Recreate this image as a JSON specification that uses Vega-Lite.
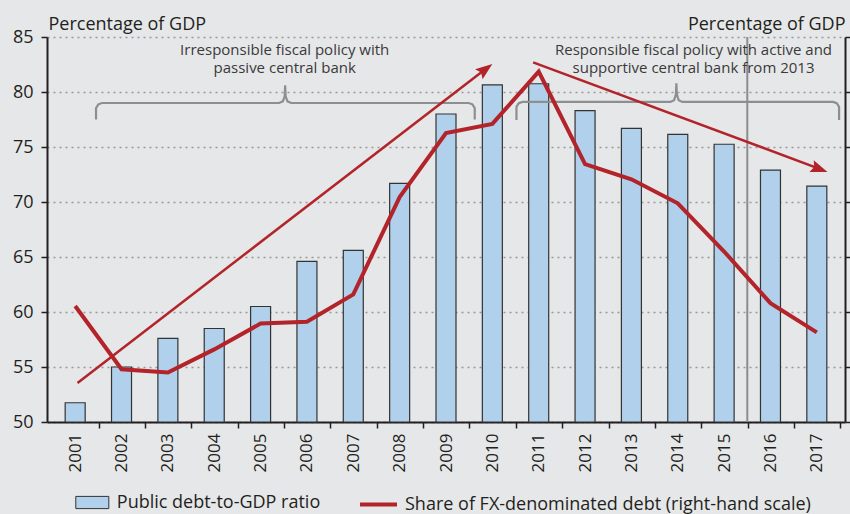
{
  "$schema": "https://vega.github.io/schema/vega-lite/v6.json",
  "width": 798,
  "height": 385,
  "autosize": {"type": "none"},
  "padding": {"left": 47, "top": 37, "right": 5, "bottom": 92},
  "background": "#e6e7e8",
  "config": {
    "view": {"stroke": null},
    "font": "Open Sans",
    "axis": {
      "labelFont": "Open Sans",
      "titleFont": "Open Sans",
      "labelColor": "#231f20",
      "titleColor": "#231f20",
      "domainColor": "#231f20",
      "tickColor": "#231f20",
      "titleFontWeight": "normal",
      "labelFontSize": 18,
      "titleFontSize": 18,
      "domainWidth": 2,
      "tickWidth": 1.5
    },
    "legend": {"labelFont": "Open Sans", "labelColor": "#231f20", "labelFontSize": 18, "labelLimit": 0}
  },
  "datasets": {
    "bars": [
      {"year": 2001, "debt": 51.75, "series": "Public debt-to-GDP ratio"},
      {"year": 2002, "debt": 55.0, "series": "Public debt-to-GDP ratio"},
      {"year": 2003, "debt": 57.6, "series": "Public debt-to-GDP ratio"},
      {"year": 2004, "debt": 58.5, "series": "Public debt-to-GDP ratio"},
      {"year": 2005, "debt": 60.5, "series": "Public debt-to-GDP ratio"},
      {"year": 2006, "debt": 64.6, "series": "Public debt-to-GDP ratio"},
      {"year": 2007, "debt": 65.6, "series": "Public debt-to-GDP ratio"},
      {"year": 2008, "debt": 71.7, "series": "Public debt-to-GDP ratio"},
      {"year": 2009, "debt": 78.0, "series": "Public debt-to-GDP ratio"},
      {"year": 2010, "debt": 80.65, "series": "Public debt-to-GDP ratio"},
      {"year": 2011, "debt": 80.75, "series": "Public debt-to-GDP ratio"},
      {"year": 2012, "debt": 78.3, "series": "Public debt-to-GDP ratio"},
      {"year": 2013, "debt": 76.7, "series": "Public debt-to-GDP ratio"},
      {"year": 2014, "debt": 76.15, "series": "Public debt-to-GDP ratio"},
      {"year": 2015, "debt": 75.25, "series": "Public debt-to-GDP ratio"},
      {"year": 2016, "debt": 72.9, "series": "Public debt-to-GDP ratio"},
      {"year": 2017, "debt": 71.45, "series": "Public debt-to-GDP ratio"}
    ],
    "fx": [
      {"year": 2001, "share": 60.55, "series": "Share of FX-denominated debt (right-hand scale)"},
      {"year": 2002, "share": 54.8, "series": "Share of FX-denominated debt (right-hand scale)"},
      {"year": 2003, "share": 54.5, "series": "Share of FX-denominated debt (right-hand scale)"},
      {"year": 2004, "share": 56.6, "series": "Share of FX-denominated debt (right-hand scale)"},
      {"year": 2005, "share": 58.95, "series": "Share of FX-denominated debt (right-hand scale)"},
      {"year": 2006, "share": 59.12, "series": "Share of FX-denominated debt (right-hand scale)"},
      {"year": 2007, "share": 61.6, "series": "Share of FX-denominated debt (right-hand scale)"},
      {"year": 2008, "share": 70.45, "series": "Share of FX-denominated debt (right-hand scale)"},
      {"year": 2009, "share": 76.27, "series": "Share of FX-denominated debt (right-hand scale)"},
      {"year": 2010, "share": 77.1, "series": "Share of FX-denominated debt (right-hand scale)"},
      {"year": 2011, "share": 81.85, "series": "Share of FX-denominated debt (right-hand scale)"},
      {"year": 2012, "share": 73.45, "series": "Share of FX-denominated debt (right-hand scale)"},
      {"year": 2013, "share": 72.06, "series": "Share of FX-denominated debt (right-hand scale)"},
      {"year": 2014, "share": 69.88, "series": "Share of FX-denominated debt (right-hand scale)"},
      {"year": 2015, "share": 65.5, "series": "Share of FX-denominated debt (right-hand scale)"},
      {"year": 2016, "share": 60.8, "series": "Share of FX-denominated debt (right-hand scale)"},
      {"year": 2017, "share": 58.15, "series": "Share of FX-denominated debt (right-hand scale)"}
    ],
    "divider": [{"year": 2015.5}],
    "braces": [
      {"b": "L", "i": 0, "x": 2001.45, "y": 77.5},
      {"b": "L", "i": 1, "x": 2001.45, "y": 78.55},
      {"b": "L", "i": 2, "x": 2001.5, "y": 78.88},
      {"b": "L", "i": 3, "x": 2001.58, "y": 79.0},
      {"b": "L", "i": 4, "x": 2005.4, "y": 79.0},
      {"b": "L", "i": 5, "x": 2005.48, "y": 79.15},
      {"b": "L", "i": 6, "x": 2005.52, "y": 79.6},
      {"b": "L", "i": 7, "x": 2005.53, "y": 80.6},
      {"b": "L", "i": 8, "x": 2005.54, "y": 79.6},
      {"b": "L", "i": 9, "x": 2005.58, "y": 79.15},
      {"b": "L", "i": 10, "x": 2005.66, "y": 79.0},
      {"b": "L", "i": 11, "x": 2009.49, "y": 79.0},
      {"b": "L", "i": 12, "x": 2009.57, "y": 78.88},
      {"b": "L", "i": 13, "x": 2009.62, "y": 78.55},
      {"b": "L", "i": 14, "x": 2009.62, "y": 77.5},
      {"b": "R", "i": 0, "x": 2010.52, "y": 77.45},
      {"b": "R", "i": 1, "x": 2010.52, "y": 78.65},
      {"b": "R", "i": 2, "x": 2010.57, "y": 78.98},
      {"b": "R", "i": 3, "x": 2010.65, "y": 79.1},
      {"b": "R", "i": 4, "x": 2013.84, "y": 79.1},
      {"b": "R", "i": 5, "x": 2013.92, "y": 79.25},
      {"b": "R", "i": 6, "x": 2013.96, "y": 79.8},
      {"b": "R", "i": 7, "x": 2013.97, "y": 80.8},
      {"b": "R", "i": 8, "x": 2013.98, "y": 79.8},
      {"b": "R", "i": 9, "x": 2014.02, "y": 79.25},
      {"b": "R", "i": 10, "x": 2014.1, "y": 79.1},
      {"b": "R", "i": 11, "x": 2017.35, "y": 79.1},
      {"b": "R", "i": 12, "x": 2017.43, "y": 78.98},
      {"b": "R", "i": 13, "x": 2017.48, "y": 78.65},
      {"b": "R", "i": 14, "x": 2017.48, "y": 77.45}
    ],
    "arrows": [
      {"arrow": "up", "i": 0, "x": 2001.05, "y": 53.55},
      {"arrow": "up", "i": 1, "x": 2009.91, "y": 82.28},
      {"arrow": "down", "i": 0, "x": 2010.88, "y": 82.7},
      {"arrow": "down", "i": 1, "x": 2017.13, "y": 72.9}
    ],
    "heads": [
      {"arrow": "up", "x": 2010.0, "y": 82.55},
      {"arrow": "down", "x": 2017.23, "y": 72.73}
    ],
    "notes": [
      {"x": 2005.52, "y": 83.82, "t": "Irresponsible fiscal policy with"},
      {"x": 2005.52, "y": 82.14, "t": "passive central bank"},
      {"x": 2014.34, "y": 83.82, "t": "Responsible fiscal policy with active and"},
      {"x": 2014.34, "y": 82.14, "t": "supportive central bank from 2013"}
    ]
  },
  "layer": [
    {
      "layer": [
        {
          "data": {"name": "bars"},
          "mark": {"type": "bar", "width": 20, "stroke": "#333333", "strokeWidth": 1.2},
          "encoding": {
            "x": {
              "field": "year", "type": "quantitative",
              "scale": {"domain": [2000.5, 2017.5], "nice": false, "zero": false},
              "axis": {
                "values": [2001, 2002, 2003, 2004, 2005, 2006, 2007, 2008, 2009, 2010, 2011, 2012, 2013, 2014, 2015, 2016, 2017],
                "format": "d", "labelAngle": -90, "tickOffset": 23.47, "labelOffset": -23.47,
                "grid": false, "title": null, "tickSize": 6, "labelPadding": 5, "labelFontSize": 17
              }
            },
            "y": {
              "field": "debt", "type": "quantitative",
              "scale": {"domain": [50, 85], "nice": false, "zero": false},
              "axis": {
                "values": [50, 55, 60, 65, 70, 75, 80, 85],
                "title": "Percentage of GDP", "titleAngle": 0, "titleAlign": "left",
                "titleBaseline": "alphabetic", "titleX": 1, "titleY": -8,
                "grid": true, "gridDash": [2, 4], "gridColor": "#999999", "gridWidth": 1.5,
                "tickSize": 6, "labelPadding": 8
              }
            },
            "y2": {"datum": 50},
            "fill": {
              "field": "series", "type": "nominal",
              "scale": {"range": ["#b1d0eb"]},
              "legend": {
                "orient": "none", "legendX": 31.8, "legendY": 452, "title": null, "padding": 0,
                "symbolType": "M-1.3,-0.48H1.3V0.48H-1.3Z", "symbolSize": 645,
                "symbolStrokeColor": "#333333", "symbolStrokeWidth": 1, "labelOffset": 11
              }
            }
          }
        },
        {
          "data": {"name": "divider"},
          "mark": {"type": "rule", "color": "#8c8c8c", "strokeWidth": 2},
          "encoding": {
            "x": {"field": "year", "type": "quantitative", "scale": {"domain": [2000.5, 2017.5], "nice": false, "zero": false}}
          }
        },
        {
          "data": {"name": "braces"},
          "mark": {"type": "line", "color": "#8c8e90", "strokeWidth": 2.2},
          "encoding": {
            "x": {"field": "x", "type": "quantitative", "scale": {"domain": [2000.5, 2017.5], "nice": false, "zero": false}},
            "y": {"field": "y", "type": "quantitative", "scale": {"domain": [50, 85], "nice": false, "zero": false}},
            "detail": {"field": "b"},
            "order": {"field": "i"}
          }
        },
        {
          "data": {"name": "notes"},
          "mark": {"type": "text", "fontSize": 15, "color": "#3a3a3a", "align": "center", "baseline": "middle", "font": "Open Sans"},
          "encoding": {
            "x": {"field": "x", "type": "quantitative", "scale": {"domain": [2000.5, 2017.5], "nice": false, "zero": false}},
            "y": {"field": "y", "type": "quantitative", "scale": {"domain": [50, 85], "nice": false, "zero": false}},
            "text": {"field": "t"}
          }
        },
        {
          "data": {"name": "arrows"},
          "mark": {"type": "line", "color": "#b3242a", "strokeWidth": 2.5},
          "encoding": {
            "x": {"field": "x", "type": "quantitative", "scale": {"domain": [2000.5, 2017.5], "nice": false, "zero": false}},
            "y": {"field": "y", "type": "quantitative", "scale": {"domain": [50, 85], "nice": false, "zero": false}},
            "detail": {"field": "arrow"},
            "order": {"field": "i"}
          }
        },
        {
          "data": {"name": "heads"},
          "transform": [{"filter": "datum.arrow === 'up'"}],
          "mark": {"type": "point", "shape": "M0,0L0.55,1.5L0,1.25L-0.55,1.5Z", "size": 511, "filled": true, "color": "#b3242a", "opacity": 1, "angle": 52.8},
          "encoding": {
            "x": {"field": "x", "type": "quantitative", "scale": {"domain": [2000.5, 2017.5], "nice": false, "zero": false}},
            "y": {"field": "y", "type": "quantitative", "scale": {"domain": [50, 85], "nice": false, "zero": false}}
          }
        },
        {
          "data": {"name": "heads"},
          "transform": [{"filter": "datum.arrow === 'down'"}],
          "mark": {"type": "point", "shape": "M0,0L0.55,1.5L0,1.25L-0.55,1.5Z", "size": 511, "filled": true, "color": "#b3242a", "opacity": 1, "angle": 110.2},
          "encoding": {
            "x": {"field": "x", "type": "quantitative", "scale": {"domain": [2000.5, 2017.5], "nice": false, "zero": false}},
            "y": {"field": "y", "type": "quantitative", "scale": {"domain": [50, 85], "nice": false, "zero": false}}
          }
        }
      ]
    },
    {
      "data": {"name": "fx"},
      "mark": {"type": "line", "strokeWidth": 4, "strokeJoin": "miter"},
      "encoding": {
        "x": {"field": "year", "type": "quantitative", "scale": {"domain": [2000.5, 2017.5], "nice": false, "zero": false}},
        "y": {
          "field": "share", "type": "quantitative",
          "scale": {"domain": [50, 85], "nice": false, "zero": false},
          "axis": {
            "orient": "right", "values": [50, 55, 60, 65, 70, 75, 80, 85], "labels": false, "grid": false,
            "title": "Percentage of GDP", "titleAngle": 0, "titleAlign": "right", "titleBaseline": "alphabetic",
            "titleX": 0, "titleY": -8, "tickSize": 5
          }
        },
        "stroke": {
          "field": "series", "type": "nominal",
          "scale": {"range": ["#b3242a"]},
          "legend": {
            "orient": "none", "legendX": 311, "legendY": 447, "title": null, "padding": 0,
            "symbolType": "stroke", "symbolSize": 1369, "symbolStrokeWidth": 4, "labelOffset": 6
          }
        }
      }
    }
  ],
  "resolve": {"scale": {"y": "independent"}}
}
